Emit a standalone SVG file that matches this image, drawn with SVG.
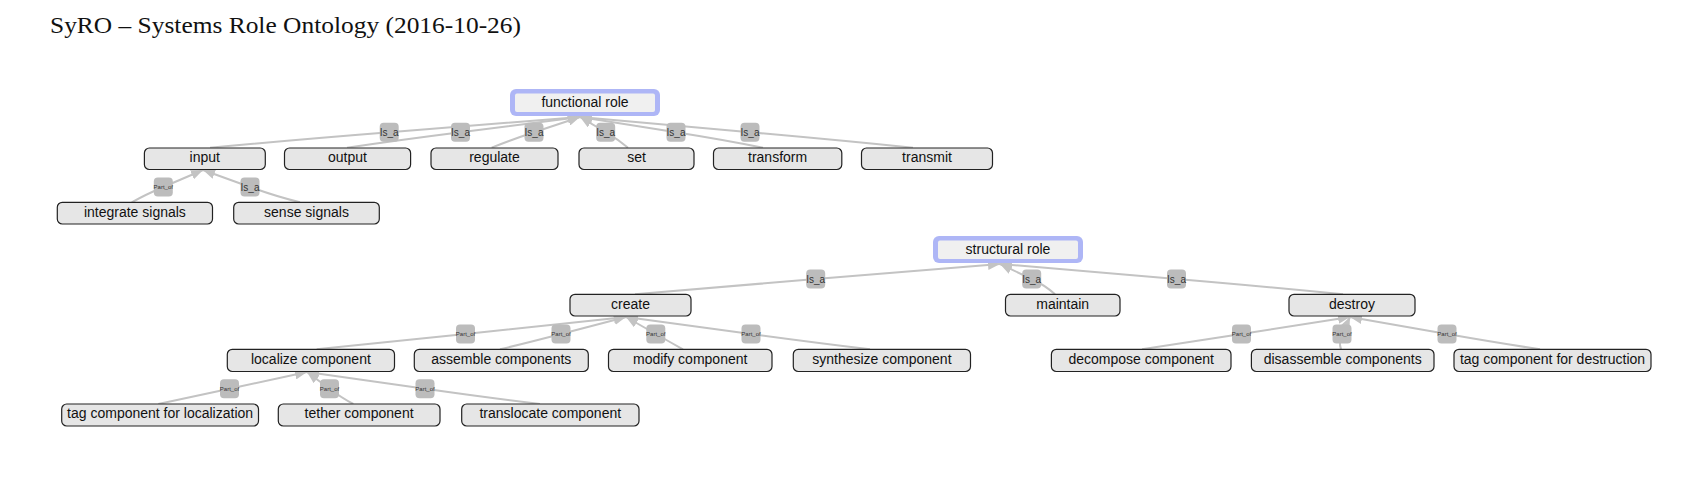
<svg xmlns="http://www.w3.org/2000/svg" width="1690" height="485" viewBox="0 0 1690 485">
<style>
.bg{fill:#ffffff}
.title{font-family:"Liberation Serif","DejaVu Serif",serif;font-size:24px;fill:#111}
.node rect{fill:#e6e6e6;stroke:#222;stroke-width:1.2}
.node text,.root text{font-family:"Liberation Sans",Arial,sans-serif;font-size:14px;fill:#111;text-anchor:middle}
.root .outer{fill:#aeb6f6}
.root .inner{fill:#f0f0f0}
.edges path{fill:none;stroke:#c3c3c3;stroke-width:2;marker-end:url(#arr)}
.lbl rect{fill:#bcbcbc}
.lbl text{font-family:"Liberation Sans",Arial,sans-serif;fill:#333;text-anchor:middle}
.isa text{font-size:10px}
.part text{font-size:6px}
</style>
<defs>
<marker id="arr" markerUnits="userSpaceOnUse" markerWidth="12" markerHeight="10" refX="12" refY="5" orient="auto">
<path d="M0,0 L12,5 L0,10 z" fill="#c3c3c3"/>
</marker>
</defs>
<rect class="bg" x="0" y="0" width="1690" height="485"/>
<text class="title" x="50" y="33" textLength="471" lengthAdjust="spacingAndGlyphs">SyRO – Systems Role Ontology (2016-10-26)</text>

<g class="edges" id="connectors">
<path d="M210,147.7 Q290.6,140.1 389.2,132.2 L580,117"/>
<path d="M347,147.7 Q398,140.1 460.5,132.2 L580,117"/>
<path d="M491.7,147.7 Q510.4,140 534,132.2 L580,117"/>
<path d="M628,147.7 Q618.5,139.8 605.7,132.2 L580,117"/>
<path d="M763,147.7 Q724,139.8 676,132.2 L580,117"/>
<path d="M913,147.7 Q839.6,140.2 750,132.2 L580,117"/>
<path d="M131.7,202.3 Q145.6,194.6 163.3,187 L203,170"/>
<path d="M300,202.3 Q277.1,196.8 250,187 L203,170"/>
<path d="M635,294.3 Q716.3,287.1 815.7,279 L1000,264"/>
<path d="M1055,294.3 Q1045.5,285.5 1031.7,279 L1000,264"/>
<path d="M1343,294.3 Q1268.2,286.8 1176.5,279 L1000,264"/>
<path d="M316.7,349.3 Q383.7,342.7 465.5,334 L626,317"/>
<path d="M500,349.3 Q527.5,342.8 561,334 L626,317"/>
<path d="M683,349.3 Q670.7,342.5 655.8,334 L626,317"/>
<path d="M870,349.3 Q816.4,342.9 751,334 L626,317"/>
<path d="M1142,349.3 Q1186.8,342.6 1241.5,334 L1350,317"/>
<path d="M1341,349.3 Q1338.4,341.6 1342,334 L1350,317"/>
<path d="M1540,349.3 Q1498,342.9 1447,334 L1350,317"/>
<path d="M158.3,404 Q190.4,397.3 229.5,388.8 L307,372"/>
<path d="M353.3,404 Q341.9,398.1 329.5,388.8 L307,372"/>
<path d="M540,404 Q488.2,397.8 425,388.8 L307,372"/>
</g>

<g id="edge-labels">
<g class="lbl isa"><rect x="379.7" y="122.7" width="19" height="19" rx="4"/><text x="389.2" y="135.7">Is_a</text></g>
<g class="lbl isa"><rect x="451" y="122.7" width="19" height="19" rx="4"/><text x="460.5" y="135.7">Is_a</text></g>
<g class="lbl isa"><rect x="524.5" y="122.7" width="19" height="19" rx="4"/><text x="534" y="135.7">Is_a</text></g>
<g class="lbl isa"><rect x="596.2" y="122.7" width="19" height="19" rx="4"/><text x="605.7" y="135.7">Is_a</text></g>
<g class="lbl isa"><rect x="666.5" y="122.7" width="19" height="19" rx="4"/><text x="676" y="135.7">Is_a</text></g>
<g class="lbl isa"><rect x="740.5" y="122.7" width="19" height="19" rx="4"/><text x="750" y="135.7">Is_a</text></g>
<g class="lbl part"><rect x="153.8" y="177.5" width="19" height="19" rx="4"/><text x="163.3" y="189">Part_of</text></g>
<g class="lbl isa"><rect x="240.5" y="177.5" width="19" height="19" rx="4"/><text x="250" y="190.5">Is_a</text></g>
<g class="lbl isa"><rect x="806.2" y="269.5" width="19" height="19" rx="4"/><text x="815.7" y="282.5">Is_a</text></g>
<g class="lbl isa"><rect x="1022.2" y="269.5" width="19" height="19" rx="4"/><text x="1031.7" y="282.5">Is_a</text></g>
<g class="lbl isa"><rect x="1167" y="269.5" width="19" height="19" rx="4"/><text x="1176.5" y="282.5">Is_a</text></g>
<g class="lbl part"><rect x="456" y="324.5" width="19" height="19" rx="4"/><text x="465.5" y="336">Part_of</text></g>
<g class="lbl part"><rect x="551.5" y="324.5" width="19" height="19" rx="4"/><text x="561" y="336">Part_of</text></g>
<g class="lbl part"><rect x="646.3" y="324.5" width="19" height="19" rx="4"/><text x="655.8" y="336">Part_of</text></g>
<g class="lbl part"><rect x="741.5" y="324.5" width="19" height="19" rx="4"/><text x="751" y="336">Part_of</text></g>
<g class="lbl part"><rect x="1232" y="324.5" width="19" height="19" rx="4"/><text x="1241.5" y="336">Part_of</text></g>
<g class="lbl part"><rect x="1332.5" y="324.5" width="19" height="19" rx="4"/><text x="1342" y="336">Part_of</text></g>
<g class="lbl part"><rect x="1437.5" y="324.5" width="19" height="19" rx="4"/><text x="1447" y="336">Part_of</text></g>
<g class="lbl part"><rect x="220" y="379.3" width="19" height="19" rx="4"/><text x="229.5" y="390.8">Part_of</text></g>
<g class="lbl part"><rect x="320" y="379.3" width="19" height="19" rx="4"/><text x="329.5" y="390.8">Part_of</text></g>
<g class="lbl part"><rect x="415.5" y="379.3" width="19" height="19" rx="4"/><text x="425" y="390.8">Part_of</text></g>
</g>

<g class="root" id="functional-role"><rect class="outer" x="510" y="89" width="150" height="27" rx="6"/><rect class="inner" x="515" y="93.5" width="140" height="18.5" rx="2"/><text x="585" y="106.5">functional role</text></g>
<g class="root" id="structural-role"><rect class="outer" x="933" y="236" width="150" height="27" rx="6"/><rect class="inner" x="938" y="240.5" width="140" height="18.5" rx="2"/><text x="1008" y="253.5">structural role</text></g>

<g class="node" id="input"><rect x="144.4" y="148" width="120.9" height="21.5" rx="5"/><text x="204.8" y="162.3">input</text></g>
<g class="node" id="output"><rect x="284.5" y="148" width="126.1" height="21.5" rx="5"/><text x="347.5" y="162.3">output</text></g>
<g class="node" id="regulate"><rect x="431" y="148" width="127" height="21.5" rx="5"/><text x="494.5" y="162.3">regulate</text></g>
<g class="node" id="set"><rect x="579" y="148" width="115" height="21.5" rx="5"/><text x="636.5" y="162.3">set</text></g>
<g class="node" id="transform"><rect x="713.5" y="148" width="128.3" height="21.5" rx="5"/><text x="777.6" y="162.3">transform</text></g>
<g class="node" id="transmit"><rect x="861.5" y="148" width="131" height="21.5" rx="5"/><text x="927" y="162.3">transmit</text></g>

<g class="node" id="integrate-signals"><rect x="57.3" y="202.3" width="155.2" height="21.7" rx="5"/><text x="134.9" y="216.6">integrate signals</text></g>
<g class="node" id="sense-signals"><rect x="233.7" y="202.3" width="145.6" height="21.7" rx="5"/><text x="306.5" y="216.6">sense signals</text></g>

<g class="node" id="create"><rect x="570" y="294.3" width="121" height="21.7" rx="5"/><text x="630.5" y="308.6">create</text></g>
<g class="node" id="maintain"><rect x="1005.5" y="294.3" width="114.5" height="21.7" rx="5"/><text x="1062.7" y="308.6">maintain</text></g>
<g class="node" id="destroy"><rect x="1289" y="294.3" width="126" height="21.7" rx="5"/><text x="1352" y="308.6">destroy</text></g>

<g class="node" id="localize-component"><rect x="227.3" y="349.3" width="167.2" height="22.2" rx="5"/><text x="310.9" y="363.6">localize component</text></g>
<g class="node" id="assemble-components"><rect x="414.3" y="349.3" width="174" height="22.2" rx="5"/><text x="501.3" y="363.6">assemble components</text></g>
<g class="node" id="modify-component"><rect x="608.5" y="349.3" width="163.5" height="22.2" rx="5"/><text x="690.2" y="363.6">modify component</text></g>
<g class="node" id="synthesize-component"><rect x="793.3" y="349.3" width="177.2" height="22.2" rx="5"/><text x="881.9" y="363.6">synthesize component</text></g>
<g class="node" id="decompose-component"><rect x="1051.4" y="349.3" width="179.6" height="22.2" rx="5"/><text x="1141.2" y="363.6">decompose component</text></g>
<g class="node" id="disassemble-components"><rect x="1251.4" y="349.3" width="182.6" height="22.2" rx="5"/><text x="1342.7" y="363.6">disassemble components</text></g>
<g class="node" id="tag-component-for-destruction"><rect x="1454" y="349.3" width="197" height="22.2" rx="5"/><text x="1552.5" y="363.6">tag component for destruction</text></g>

<g class="node" id="tag-component-for-localization"><rect x="61.7" y="404" width="196.8" height="22" rx="5"/><text x="160.1" y="418.3">tag component for localization</text></g>
<g class="node" id="tether-component"><rect x="278.3" y="404" width="161.7" height="22" rx="5"/><text x="359.1" y="418.3">tether component</text></g>
<g class="node" id="translocate-component"><rect x="461.7" y="404" width="177.3" height="22" rx="5"/><text x="550.3" y="418.3">translocate component</text></g>
</svg>
